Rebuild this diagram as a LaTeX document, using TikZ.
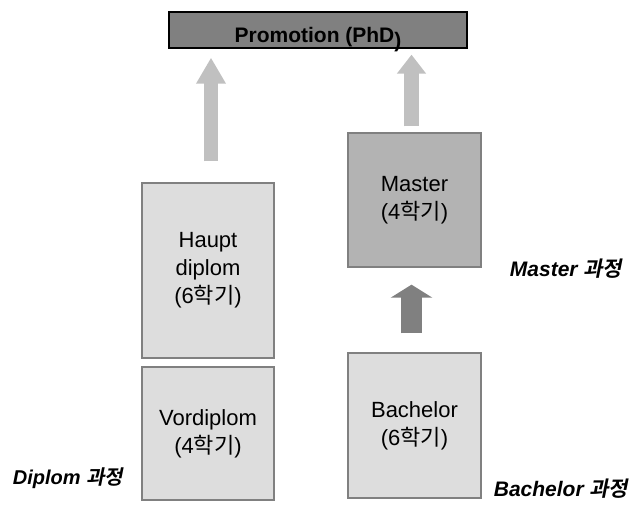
\documentclass[tikz,border=0pt]{standalone}
\usepackage{fontspec}
\setmainfont{Liberation Sans}
\newfontfamily\krfont{Noto Sans CJK KR}[BoldFont={Noto Sans CJK KR Bold}, BoldItalicFont={Noto Sans CJK KR Bold}, BoldItalicFeatures={FakeSlant=0.2}]
\newcommand{\kr}[1]{{\krfont #1}}
\usetikzlibrary{arrows.meta}
\definecolor{boxlight}{HTML}{DDDDDD}
\definecolor{boxmid}{HTML}{B3B3B3}
\definecolor{boxdark}{HTML}{808080}
\definecolor{arrowlight}{HTML}{C0C0C0}
\definecolor{edgegray}{HTML}{808080}
\tikzset{stage/.style = {draw=edgegray, line width=1.3pt, fill=boxlight, align=center, inner sep=0, font=\fontsize{22}{28}\selectfont}}
\tikzset{track/.style = {font=\fontsize{21}{24}\selectfont\bfseries\itshape}}
\tikzset{uparrow/.style = {line width=14pt, draw=arrowlight, -{Triangle[length=26pt, width=28pt]}}}

\begin{document}
\begin{tikzpicture}[x=1pt, y=-1pt]
    \useasboundingbox (0,0) rectangle (639,508);
    \node [draw, line width=1.3pt, fill=boxdark, minimum width=298pt, minimum height=36pt, text height=25pt, text depth=0pt, font=\fontsize{21}{24}\selectfont\bfseries] (prom) at (318,30) {Promotion (PhD\raisebox{-5pt}[0pt][0pt]{)}};

    \node [stage, minimum width=132pt, minimum height=175pt] (hd) at (208,270.5) {Haupt\\diplom\\(6\kr{학기})};
    \node [stage, minimum width=132pt, minimum height=133pt] (vd) at (208,433.5) {Vordiplom\\(4\kr{학기})};
    \node [stage, fill=boxmid, minimum width=133pt, minimum height=134pt] (ms) at (414.5,200) {Master\\(4\kr{학기})};
    \node [stage, minimum width=133pt, minimum height=145pt] (ba) at (414.5,425.5) {Bachelor\\(6\kr{학기})};

    \node [track, font=\fontsize{20}{24}\selectfont\bfseries\itshape] (dlab) at (68,478) {Diplom \kr{과정}};
    \node [track] (mlab) at (566,269) {Master \kr{과정}};
    \node [track] (blab) at (561,489) {Bachelor \kr{과정}};

    \path (hd.north) ++(3,0) coordinate (hdtop);
    \path (ms.north) ++(-3,0) coordinate (mstop);
    \path (ba.north) ++(-3,0) coordinate (batop);
    \draw [uparrow, shorten <=21pt, shorten >=9pt] (hdtop) -- (hdtop |- prom.south);
    \draw [uparrow, line width=15pt, -{Triangle[length=19pt, width=28pt]}, shorten <=6pt, shorten >=6pt] (mstop) -- (mstop |- prom.south);
    \draw [uparrow, draw=boxdark, line width=21pt, -{Triangle[length=13pt, width=41pt]}, shorten <=19pt, shorten >=17pt] (batop) -- (batop |- ms.south);
\end{tikzpicture}
\end{document}
